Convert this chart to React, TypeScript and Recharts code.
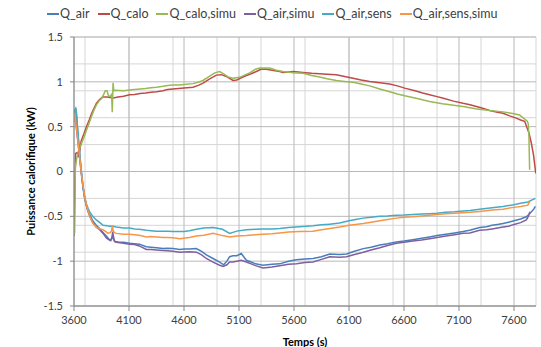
import React from 'react';
import { LineChart, Line, XAxis, YAxis, CartesianGrid, Legend } from 'recharts';

// [time (s), power (kW)]
const qAir: [number, number][] = [
  [3600, 0.62], [3607, 0.68], [3615, 0.7], [3622, 0.64], [3635, 0.42], [3652, 0.18], [3668, -0.02],
  [3682, -0.18], [3697, -0.3], [3712, -0.38], [3728, -0.44], [3743, -0.48], [3770, -0.55], [3803, -0.6],
  [3834, -0.64], [3864, -0.68], [3894, -0.72], [3915, -0.75], [3935, -0.77], [3945, -0.74], [3952, -0.71],
  [3960, -0.76], [3975, -0.78], [4000, -0.785], [4050, -0.79], [4106, -0.8], [4150, -0.805], [4194, -0.81],
  [4258, -0.84], [4300, -0.845], [4350, -0.85], [4409, -0.86], [4450, -0.855], [4500, -0.86], [4561, -0.87],
  [4600, -0.865], [4650, -0.865], [4712, -0.86], [4760, -0.89], [4803, -0.93], [4864, -0.97], [4924, -1.01],
  [4960, -1.04], [4990, -1.0], [5015, -0.95], [5045, -0.94], [5080, -0.94], [5121, -0.915], [5167, -0.99],
  [5210, -1.01], [5250, -1.03], [5318, -1.045], [5360, -1.04], [5400, -1.035], [5470, -1.03], [5550, -1.0],
  [5620, -0.985], [5700, -0.975], [5773, -0.97], [5850, -0.95], [5925, -0.92], [6015, -0.925], [6078, -0.92],
  [6150, -0.89], [6230, -0.86], [6300, -0.845], [6380, -0.82], [6450, -0.805], [6531, -0.785], [6600, -0.775],
  [6680, -0.76], [6760, -0.745], [6833, -0.73], [6900, -0.715], [6980, -0.7], [7060, -0.685], [7137, -0.67],
  [7197, -0.655], [7288, -0.625], [7350, -0.615], [7400, -0.6], [7450, -0.59], [7500, -0.58], [7550, -0.565],
  [7600, -0.55], [7660, -0.53], [7712, -0.505], [7735, -0.48], [7758, -0.45], [7780, -0.42], [7794, -0.39],
];

const qCalo: [number, number][] = [
  [3600, -0.72], [3606, -0.3], [3615, 0.2], [3630, 0.21], [3645, 0.16], [3665, 0.34], [3690, 0.42],
  [3713, 0.5], [3740, 0.58], [3758, 0.64], [3780, 0.7], [3803, 0.76], [3830, 0.8], [3860, 0.83],
  [3900, 0.83], [3957, 0.82], [4000, 0.83], [4050, 0.84], [4106, 0.855], [4150, 0.86], [4200, 0.87],
  [4250, 0.875], [4300, 0.885], [4350, 0.89], [4409, 0.9], [4450, 0.915], [4500, 0.92], [4550, 0.925],
  [4600, 0.93], [4682, 0.94], [4730, 0.96], [4773, 0.985], [4830, 1.03], [4894, 1.075], [4940, 1.08],
  [4985, 1.06], [5045, 1.015], [5080, 1.02], [5120, 1.045], [5167, 1.07], [5210, 1.09], [5258, 1.115],
  [5300, 1.14], [5349, 1.14], [5400, 1.13], [5470, 1.115], [5500, 1.105], [5550, 1.11], [5591, 1.115],
  [5640, 1.11], [5680, 1.105], [5760, 1.095], [5833, 1.09], [5900, 1.085], [5985, 1.08], [6060, 1.06],
  [6137, 1.04], [6210, 1.02], [6288, 1.005], [6380, 0.99], [6470, 0.975], [6540, 0.955], [6606, 0.93],
  [6700, 0.9], [6770, 0.875], [6833, 0.855], [6900, 0.835], [6950, 0.82], [7050, 0.785], [7137, 0.76],
  [7200, 0.745], [7300, 0.71], [7379, 0.68], [7450, 0.66], [7500, 0.65], [7560, 0.62], [7620, 0.595],
  [7660, 0.575], [7697, 0.56], [7715, 0.5], [7736, 0.43], [7758, 0.315], [7778, 0.18], [7790, 0.06],
  [7798, -0.02],
];

const qCaloSimu: [number, number][] = [
  [3600, -0.7], [3606, -0.68], [3612, 0.05], [3625, 0.15], [3640, 0.22], [3667, 0.31], [3690, 0.38],
  [3713, 0.46], [3735, 0.53], [3758, 0.61], [3780, 0.68], [3803, 0.74], [3830, 0.79], [3849, 0.81],
  [3870, 0.86], [3885, 0.9], [3900, 0.9], [3915, 0.84], [3930, 0.84], [3942, 0.86], [3948, 0.66],
  [3955, 0.99], [3962, 0.9], [3975, 0.905], [4050, 0.9], [4106, 0.91], [4150, 0.915], [4200, 0.92],
  [4250, 0.925], [4300, 0.935], [4350, 0.94], [4409, 0.95], [4450, 0.96], [4500, 0.965], [4550, 0.965],
  [4600, 0.97], [4682, 0.98], [4730, 0.995], [4773, 1.015], [4830, 1.06], [4880, 1.1], [4924, 1.115],
  [4960, 1.09], [5000, 1.055], [5045, 1.04], [5106, 1.05], [5150, 1.075], [5197, 1.1], [5250, 1.14],
  [5288, 1.155], [5379, 1.155], [5440, 1.13], [5500, 1.115], [5591, 1.1], [5682, 1.095], [5760, 1.07],
  [5833, 1.055], [5900, 1.035], [5985, 1.015], [6060, 1.005], [6137, 0.995], [6210, 0.975], [6288, 0.955],
  [6380, 0.92], [6470, 0.89], [6540, 0.865], [6606, 0.845], [6700, 0.82], [6833, 0.78], [6950, 0.755],
  [7050, 0.74], [7137, 0.725], [7250, 0.7], [7379, 0.68], [7500, 0.665], [7600, 0.645], [7650, 0.63],
  [7697, 0.585], [7720, 0.56], [7730, 0.53], [7736, 0.39], [7742, 0.02],
];

const qAirSimu: [number, number][] = [
  [3600, 0.55], [3605, 0.64], [3612, 0.6], [3625, 0.45], [3637, 0.32], [3652, 0.14], [3667, -0.03],
  [3682, -0.17], [3697, -0.29], [3720, -0.42], [3743, -0.5], [3770, -0.57], [3803, -0.62], [3834, -0.65],
  [3864, -0.69], [3894, -0.74], [3915, -0.76], [3930, -0.77], [3945, -0.74], [3952, -0.67], [3958, -0.72],
  [3968, -0.78], [3985, -0.79], [4050, -0.8], [4106, -0.81], [4150, -0.815], [4194, -0.83], [4258, -0.87],
  [4300, -0.87], [4350, -0.875], [4409, -0.88], [4450, -0.885], [4500, -0.89], [4561, -0.9], [4650, -0.895],
  [4712, -0.9], [4760, -0.93], [4803, -0.97], [4864, -1.01], [4924, -1.045], [4955, -1.06], [4990, -1.04],
  [5015, -1.01], [5045, -1.01], [5080, -1.0], [5121, -0.99], [5167, -1.01], [5210, -1.03], [5250, -1.05],
  [5318, -1.075], [5360, -1.07], [5400, -1.065], [5470, -1.05], [5550, -1.035], [5622, -1.03],
  [5700, -1.015], [5773, -1.01], [5850, -0.98], [5925, -0.95], [6015, -0.955], [6078, -0.95],
  [6150, -0.925], [6230, -0.9], [6300, -0.875], [6380, -0.85], [6450, -0.825], [6531, -0.8], [6600, -0.79],
  [6680, -0.775], [6760, -0.765], [6833, -0.75], [6900, -0.735], [6980, -0.72], [7060, -0.705],
  [7137, -0.69], [7197, -0.685], [7288, -0.655], [7350, -0.65], [7400, -0.64], [7450, -0.63],
  [7500, -0.62], [7550, -0.61], [7600, -0.59], [7660, -0.57], [7712, -0.54], [7730, -0.5], [7745, -0.45],
];

const qAirSens: [number, number][] = [
  [3600, 0.58], [3607, 0.66], [3615, 0.71], [3622, 0.66], [3635, 0.45], [3652, 0.2], [3668, 0.0],
  [3682, -0.17], [3697, -0.28], [3712, -0.36], [3728, -0.41], [3743, -0.45], [3770, -0.5], [3803, -0.54],
  [3835, -0.57], [3864, -0.6], [3900, -0.605], [3925, -0.61], [3955, -0.61], [3985, -0.62], [4050, -0.63],
  [4106, -0.63], [4150, -0.64], [4194, -0.645], [4258, -0.655], [4300, -0.66], [4350, -0.665],
  [4409, -0.665], [4450, -0.665], [4500, -0.67], [4561, -0.67], [4600, -0.67], [4650, -0.66],
  [4712, -0.645], [4780, -0.63], [4864, -0.625], [4950, -0.645], [5015, -0.69], [5080, -0.665],
  [5167, -0.65], [5250, -0.645], [5318, -0.64], [5400, -0.64], [5470, -0.635], [5550, -0.625],
  [5650, -0.615], [5773, -0.605], [5850, -0.595], [5925, -0.587], [6015, -0.575], [6100, -0.55],
  [6160, -0.535], [6230, -0.52], [6300, -0.51], [6380, -0.5], [6450, -0.495], [6531, -0.487],
  [6600, -0.485], [6680, -0.48], [6760, -0.475], [6833, -0.47], [6900, -0.465], [6980, -0.455],
  [7060, -0.45], [7137, -0.44], [7200, -0.435], [7288, -0.42], [7400, -0.405], [7500, -0.39],
  [7600, -0.37], [7660, -0.355], [7727, -0.34], [7760, -0.32], [7794, -0.3],
];

const qAirSensSimu: [number, number][] = [
  [3600, 0.55], [3605, 0.65], [3612, 0.6], [3625, 0.45], [3637, 0.32], [3652, 0.15], [3667, -0.02],
  [3682, -0.16], [3697, -0.28], [3720, -0.41], [3743, -0.5], [3770, -0.57], [3803, -0.62], [3835, -0.64],
  [3864, -0.65], [3890, -0.67], [3909, -0.69], [3931, -0.68], [3942, -0.66], [3949, -0.6], [3955, -0.65],
  [3965, -0.68], [3985, -0.69], [4050, -0.7], [4106, -0.7], [4150, -0.705], [4194, -0.71], [4258, -0.73],
  [4300, -0.725], [4350, -0.73], [4409, -0.735], [4450, -0.735], [4500, -0.74], [4561, -0.75],
  [4650, -0.735], [4712, -0.72], [4780, -0.71], [4864, -0.69], [4950, -0.715], [5015, -0.73],
  [5080, -0.72], [5167, -0.715], [5250, -0.705], [5318, -0.7], [5400, -0.695], [5470, -0.685],
  [5550, -0.675], [5650, -0.67], [5773, -0.665], [5850, -0.65], [5925, -0.635], [6015, -0.62],
  [6100, -0.6], [6160, -0.59], [6230, -0.58], [6300, -0.565], [6380, -0.55], [6450, -0.535],
  [6531, -0.52], [6600, -0.51], [6680, -0.505], [6760, -0.495], [6833, -0.487], [6900, -0.48],
  [6980, -0.47], [7060, -0.465], [7137, -0.46], [7200, -0.455], [7288, -0.445], [7400, -0.43],
  [7500, -0.42], [7600, -0.4], [7660, -0.39], [7727, -0.375], [7735, -0.34], [7745, -0.35],
];

const seriesNames = ['Q_air', 'Q_calo', 'Q_calo,simu', 'Q_air,simu', 'Q_air,sens', 'Q_air,sens,simu'];
const seriesColors = ['#4A7EBB', '#BE4B48', '#98B954', '#7D60A0', '#46AAC5', '#F79646'];
const seriesData = [qAir, qCalo, qCaloSimu, qAirSimu, qAirSens, qAirSensSimu];

const xTicks = [3600, 4100, 4600, 5100, 5600, 6100, 6600, 7100, 7600];
const yTicks = [-1.5, -1, -0.5, 0, 0.5, 1, 1.5];
const xMinor: number[] = [];
for (let t = 3600; t <= 7800; t += 100) xMinor.push(t);
const yMinor: number[] = [];
for (let i = -15; i <= 15; i += 1) yMinor.push(i / 10);

const FONT = 'Lato, "Open Sans", sans-serif';

const LegendContent = () => (
  <div style={{ display: 'flex', paddingLeft: 47, fontFamily: FONT, fontSize: 12.5, color: '#404040', lineHeight: '15px' }}>
    {seriesNames.map((n, i) => (
      <div key={n} style={{ display: 'flex', alignItems: 'center', marginRight: 8 }}>
        <span style={{ display: 'inline-block', width: 12, height: 2, background: seriesColors[i], marginRight: 1 }} />
        <span>{n}</span>
      </div>
    ))}
  </div>
);

export default function App() {
  return (
    <div style={{ position: 'absolute', left: 0, top: 0, width: 541, height: 347, background: '#fff' }}>
      <LineChart width={541} height={347} margin={{ top: 37, right: 5, bottom: 0, left: 0 }}>
        <CartesianGrid stroke="#d6d6d6" strokeWidth={1} verticalValues={xMinor} horizontalValues={yMinor} />
        <CartesianGrid stroke="#b8b8b8" strokeWidth={1} verticalValues={xTicks} horizontalValues={yTicks} />
        <XAxis
          type="number"
          dataKey="t"
          domain={[3600, 7800]}
          ticks={xTicks}
          allowDataOverflow
          height={41}
          tickSize={5}
          tickMargin={5}
          stroke="#868686"
          tick={{ fill: '#404040', fontSize: 11, fontFamily: FONT }}
          label={{ value: 'Temps (s)', position: 'insideBottom', offset: 1, fill: '#000', fontSize: 11, fontWeight: 'bold', fontFamily: FONT }}
        />
        <YAxis
          type="number"
          domain={[-1.5, 1.5]}
          ticks={yTicks}
          width={74}
          tickSize={4}
          tickMargin={7}
          stroke="#868686"
          tick={{ fill: '#404040', fontSize: 11, fontFamily: FONT }}
          label={{ value: 'Puissance calorifique (kW)', angle: -90, position: 'center', dx: -6, fill: '#000', fontSize: 11, fontWeight: 'bold', fontFamily: FONT }}
        />
        <Legend verticalAlign="middle" align="center" wrapperStyle={{ top: 6, left: 0, width: 541 }} content={<LegendContent />} />
        {seriesNames.map((n, i) => (
          <Line
            key={n}
            name={n}
            data={seriesData[i].map(([t, v]) => ({ t, v }))}
            dataKey="v"
            type="linear"
            stroke={seriesColors[i]}
            strokeWidth={1.5}
            dot={false}
            isAnimationActive={false}
          />
        ))}
      </LineChart>
    </div>
  );
}
